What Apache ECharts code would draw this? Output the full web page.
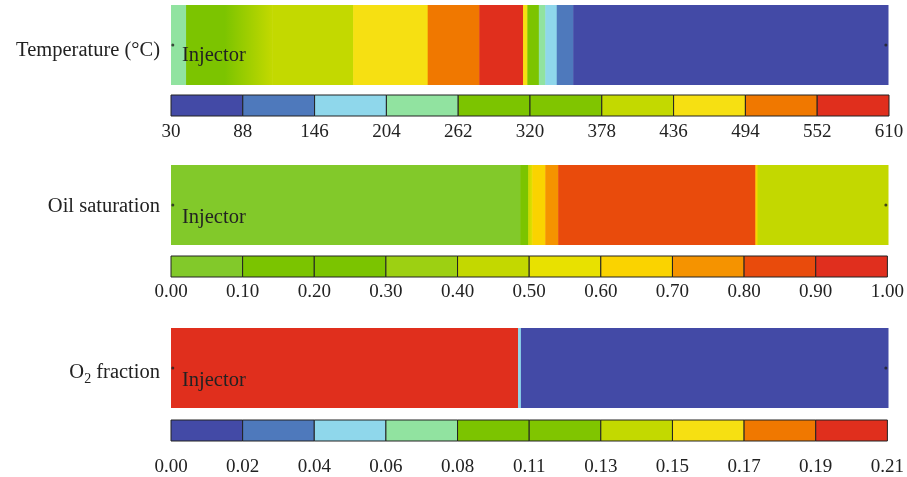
<!DOCTYPE html>
<html>
<head>
<meta charset="utf-8">
<script src="https://cdn.jsdelivr.net/npm/echarts@6/dist/echarts.min.js"></script>
<style>html,body{margin:0;padding:0;background:#fff}#c{width:907px;height:477px}</style>
</head>
<body>
<div id="c"></div>
<script>
// ---- data ----
var rowNames = ['Temperature (°C)', 'Oil saturation', '{o|O}{s|2}{o| fraction}'];
var injectorLabel = 'Injector';

var tempTicks = ['30','88','146','204','262','320','378','436','494','552','610'];
var oilTicks  = ['0.00','0.10','0.20','0.30','0.40','0.50','0.60','0.70','0.80','0.90','1.00'];
var o2Ticks   = ['0.00','0.02','0.04','0.06','0.08','0.11','0.13','0.15','0.17','0.19','0.21'];

var tempPalette = ['#434aa6','#4e79bc','#8fd7eb','#91e3a0','#7cc400','#80c500','#c3d900','#f6e012','#f07800','#e02f1d'];
var oilPalette  = ['#82c92a','#7bc400','#7bc400','#9dd012','#c3d800','#e8e100','#fad300','#f59300','#e94b0c','#e02f1e'];

// strip segments: [start %, end %, level at start, level at end] along distance from injector
var tempSegments = [
  [0.0, 2.1, 3, 3],
  [2.1, 7.5, 4, 4],
  [7.5, 14.1, 4, 6],
  [14.1, 25.4, 6, 6],
  [25.4, 35.8, 7, 7],
  [35.8, 43.0, 8, 8],
  [43.0, 49.1, 9, 9],
  [49.1, 49.7, 7, 7],
  [49.7, 51.3, 4, 4],
  [51.3, 52.2, 3, 3],
  [52.2, 53.8, 2, 2],
  [53.8, 56.1, 1, 1],
  [56.1, 100, 0, 0]
];
var oilSegments = [
  [0.0, 48.7, 0, 0],
  [48.7, 49.8, 1, 1],
  [49.8, 50.4, 4, 5],
  [50.4, 52.2, 6, 6],
  [52.2, 54.0, 7, 7],
  [54.0, 81.5, 8, 8],
  [81.5, 81.8, 6, 6],
  [81.8, 100, 4, 4]
];
var o2Segments = [
  [0.0, 48.4, 9, 9],
  [48.4, 48.8, 2, 2],
  [48.8, 100, 0, 0]
];
var wellMarks = [[0.25, 0], [99.7, 0]];
var cbarLevels = [0,1,2,3,4,5,6,7,8,9];

// ---- chart ----
var chart = echarts.init(document.getElementById('c'));
var FONT = '"Liberation Serif", "DejaVu Serif", serif';
var stripTops = [5, 165, 328];
var stripH = 80;
var cbarTops = [95, 256, 420];
var cbarH = 21;
var labelMargins = [7, 6, 17];
var nameShift = [6, 2, 5];
var injectorShift = [40, 42, 42];

var grids = [], xAxes = [], yAxes = [], series = [];
var segSets = [tempSegments, oilSegments, o2Segments];
var palettes = [tempPalette, oilPalette, tempPalette];
var tickSets = [tempTicks, oilTicks, o2Ticks];

function stripRender(pal) {
  return function (params, api) {
    var x0 = api.value(0), x1 = api.value(1), c0 = api.value(2), c1 = api.value(3);
    var p0 = api.coord([x0, 0]);
    var p1 = api.coord([x1, 0]);
    var h = api.size([0, 1])[1];
    var fill = c0 === c1 ? pal[c0] :
      new echarts.graphic.LinearGradient(0, 0, 1, 0, [{offset: 0, color: pal[c0]}, {offset: 1, color: pal[c1]}]);
    return {
      type: 'rect',
      shape: {x: p0[0], y: p0[1] - h / 2, width: p1[0] - p0[0] + 0.5, height: h},
      style: {fill: fill}
    };
  };
}
function cbarRender(pal) {
  return function (params, api) {
    var i = api.value(0);
    var p0 = api.coord([i, 1]);
    var p1 = api.coord([i + 1, 0]);
    return {
      type: 'rect',
      shape: {x: p0[0], y: p0[1], width: p1[0] - p0[0], height: p1[1] - p0[1]},
      style: {fill: pal[i], stroke: '#222', lineWidth: 1}
    };
  };
}

for (var r = 0; r < 3; r++) {
  var gs = r * 2, gc = r * 2 + 1;
  grids.push({left: 171, right: 19, top: stripTops[r], height: stripH});
  grids.push({left: 171, right: 18, top: cbarTops[r], height: cbarH});
  xAxes.push({gridIndex: gs, type: 'value', min: 0, max: 100, show: false});
  yAxes.push({
    gridIndex: gs, type: 'category', data: [rowNames[r]],
    axisLine: {show: false}, axisTick: {show: false},
    axisLabel: {
      margin: 11, fontFamily: FONT, fontSize: 20.5, color: '#222',
      padding: [nameShift[r] * 2, 0, 0, 0],
      rich: {o: {fontFamily: FONT, fontSize: 20.5, color: '#222'},
             s: {fontFamily: FONT, fontSize: 14, color: '#222', verticalAlign: 'bottom', padding: [12, 0, 0, 0]}}
    }
  });
  (function (ticks) {
    xAxes.push({
      gridIndex: gc, type: 'value', min: 0, max: 10, interval: 1,
      axisLine: {show: false}, axisTick: {show: false}, splitLine: {show: false},
      axisLabel: {showMinLabel: true, showMaxLabel: true, margin: labelMargins[r],
        fontFamily: FONT, fontSize: 19, color: '#222',
        formatter: function (v) { return ticks[Math.round(v)]; }}
    });
  })(tickSets[r]);
  yAxes.push({gridIndex: gc, type: 'value', min: 0, max: 1, show: false});

  series.push({
    type: 'custom', xAxisIndex: gs, yAxisIndex: gs,
    renderItem: stripRender(palettes[r]),
    encode: {x: [0, 1]},
    data: segSets[r], silent: true
  });
  series.push({
    type: 'scatter', xAxisIndex: gs, yAxisIndex: gs,
    data: wellMarks, symbol: 'circle', symbolSize: 3,
    itemStyle: {color: '#222'}, silent: true, z: 5
  });
  series.push({
    type: 'custom', xAxisIndex: gc, yAxisIndex: gc,
    renderItem: cbarRender(palettes[r]),
    encode: {x: 0},
    data: cbarLevels.map(function (v) { return [v]; }), silent: true
  });
}

var graphics = stripTops.map(function (t, i) {
  return {
    type: 'text', left: 182, top: t + injectorShift[i], z: 10,
    style: {text: injectorLabel, font: '20.5px ' + FONT, fill: '#222'}
  };
});

chart.setOption({
  animation: false,
  grid: grids, xAxis: xAxes, yAxis: yAxes, series: series,
  graphic: graphics
});
</script>
</body>
</html>
